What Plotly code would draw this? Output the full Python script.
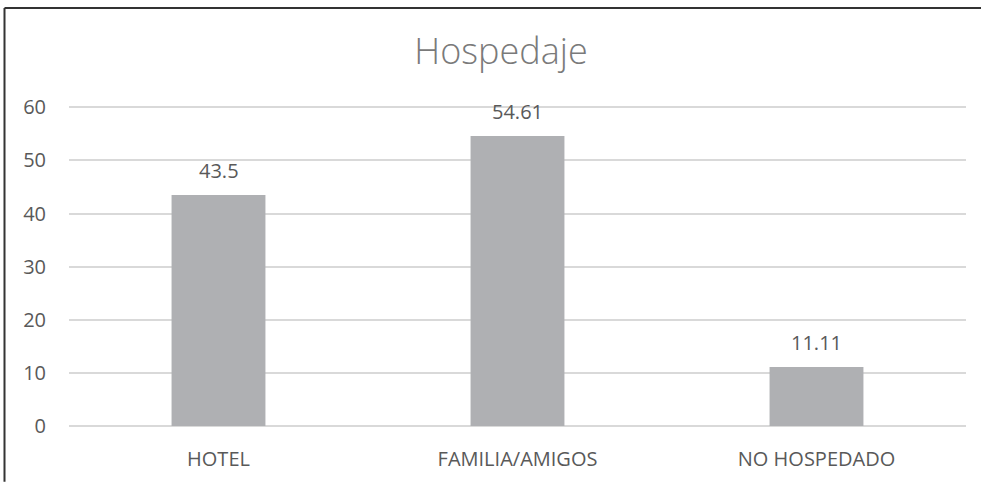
import plotly.graph_objects as go

categories = ["HOTEL", "FAMILIA/AMIGOS", "NO HOSPEDADO"]
values = [43.5, 54.61, 11.11]
value_labels = ["43.5", "54.61", "11.11"]
y_ticks = [0, 10, 20, 30, 40, 50, 60]

W, H = 981, 484
L, R, T, B = 69, 15, 102, 56
pw, ph = W - L - R, H - T - B
FONT = "Open Sans"
TXT = "#595959"

fig = go.Figure(go.Bar(
    x=categories, y=values,
    marker=dict(color="#AFB0B3", line=dict(width=0)),
    hoverinfo="skip",
))

annotations = [
    dict(x=c, y=v, text=t, xref="x", yref="y", showarrow=False,
         yanchor="bottom", yshift=9, font=dict(family=FONT, size=20, color=TXT))
    for c, v, t in zip(categories, values, value_labels)
]

bx0 = (4.5 - L) / pw
by1 = 1 + (T - 7.5) / ph
border = dict(color="#333333", width=2)

fig.update_layout(
    width=W, height=H,
    margin=dict(l=L, r=R, t=T, b=B),
    paper_bgcolor="white", plot_bgcolor="white",
    bargap=0.686,
    showlegend=False,
    title=dict(text="Hospedaje", x=501 / W, xanchor="center", y=1 - 51 / H, yanchor="middle",
               font=dict(family=FONT, size=36, color="#7a7a7a", weight=300)),
    font=dict(family=FONT, color=TXT),
    annotations=annotations,
    xaxis=dict(showgrid=False, showline=False, ticks="", zeroline=False,
               tickfont=dict(size=20, color=TXT), ticklabelstandoff=19),
    yaxis=dict(range=[0, 61], tickvals=y_ticks, showgrid=True, gridcolor="#D9D9D9", gridwidth=1.5,
               zeroline=True, zerolinecolor="#D9D9D9", zerolinewidth=1.5, showline=False, ticks="",
               tickfont=dict(size=20, color=TXT), ticklabelstandoff=22),
    shapes=[
        dict(type="line", xref="paper", yref="paper", x0=bx0, x1=bx0, y0=-B / ph, y1=by1, line=border),
        dict(type="line", xref="paper", yref="paper", x0=bx0, x1=1 + R / pw, y0=by1, y1=by1, line=border),
    ],
)

fig.write_html("out.html", config={"displayModeBar": False},
               post_script="document.body.style.margin='0';")
